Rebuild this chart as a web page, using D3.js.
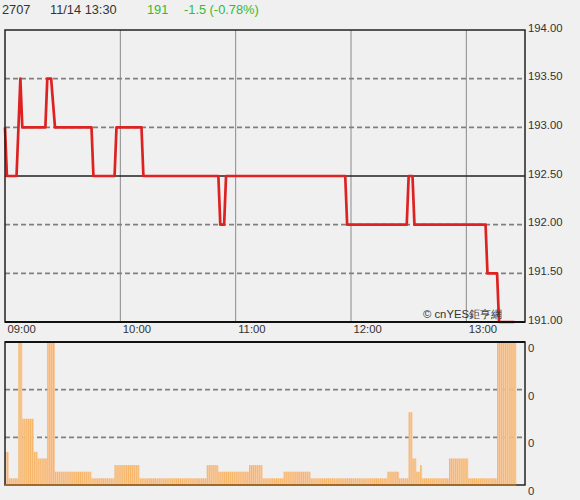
<!DOCTYPE html>
<html><head><meta charset="utf-8">
<script src="https://cdn.jsdelivr.net/npm/d3@7"></script>
<style>body{margin:0;background:#f0f0f0;} svg{display:block;font-family:"Liberation Sans",Arial,sans-serif;}</style>
</head><body><svg id="c" width="580" height="500"></svg>
<script>
// ---- data ----
const stockCode = "2707";
const quoteTime = "11/14 13:30";
const lastPrice = "191";
const priceChange = "-1.5 (-0.78%)";
const watermark = "© cnYES鉅亨網";
const prevClose = 192.5;

const priceTimes = ["09:00","09:01","09:06","09:08","09:09","09:21","09:22","09:24","09:26","09:45","09:46","09:57","09:58","10:11","10:12","10:51","10:52","10:54","10:55","11:57","11:58","12:29","12:30","12:32","12:33","13:10","13:11","13:16","13:17","13:25"];
const priceValues = [193.0,192.5,192.5,193.5,193.0,193.0,193.5,193.5,193.0,193.0,192.5,192.5,193.0,193.0,192.5,192.5,192.0,192.0,192.5,192.5,192.0,192.0,192.5,192.5,192.0,192.0,191.5,191.5,191.0,191.0];

const priceTicks = [191.0,191.5,192.0,192.5,193.0,193.5,194.0];
const timeTicks = ["09:00","10:00","11:00","12:00","13:00"];

// one value per minute starting 09:00
const volumeValues = [
  5,5,1,1,1,1,1,22,22,10,
  10,10,10,10,10,5,5,4,4,4,
  4,4,22,22,22,22,2,2,2,2,
  2,2,2,2,2,2,2,2,2,2,
  2,2,2,2,2,1,1,1,1,1,
  1,1,1,1,1,1,1,3,3,3,
  3,3,3,3,3,3,3,3,3,3,
  1,1,1,1,1,1,1,1,1,1,
  1,1,1,1,1,1,1,1,1,1,
  1,1,1,1,1,1,1,1,1,1,
  1,1,1,1,1,3,3,3,3,3,
  3,2,2,2,2,2,2,2,2,2,
  2,2,2,2,2,2,2,3,3,3,
  3,3,3,3,1,1,1,1,1,1,
  1,1,1,1,1,2,2,2,2,2,
  2,2,2,2,2,2,2,2,2,1,
  1,1,1,1,1,1,1,1,1,1,
  1,1,1,1,1,1,1,1,1,1,
  1,1,1,1,1,1,1,1,1,1,
  1,1,1,1,1,1,1,1,1,2,
  2,2,2,2,2,1,1,1,1,1,
  11,11,4,4,2,2,3,1,1,1,
  1,1,1,1,1,1,1,1,1,1,
  1,4,4,4,4,4,4,4,4,4,
  4,1,1,1,1,1,1,1,1,1,
  1,1,1,1,1,1,22,22,22,22,
  22,22,22,22,22,22
];
const volumeTicks = [0, 7.2, 14.4, 21.6];
const volumeTickLabels = ["0","0","0","0"];

// ---- drawing ----
const svg = d3.select("#c");
const parse = s => { const [h,m] = s.split(":").map(Number); return new Date(2023,10,14,h,m); };
const tStart = parse("09:00"), tEnd = parse("13:30");
const x = d3.scaleTime().domain([tStart, tEnd]).range([5, 524]);
const y = d3.scaleLinear().domain([191, 194]).range([322, 30]);
const vy = d3.scaleLinear().domain([0, 21.6]).range([485, 342]).clamp(true);

svg.append("rect").attr("width",580).attr("height",500).attr("fill","#f0f0f0");

// header
const hdr = svg.append("g").attr("font-size","12.8px");
hdr.append("text").attr("x",2).attr("y",14).attr("fill","#333").text(stockCode);
hdr.append("text").attr("x",50).attr("y",14).attr("fill","#333").text(quoteTime);
hdr.append("text").attr("x",147).attr("y",14).attr("fill","#33bb33").text(lastPrice);
hdr.append("text").attr("x",184).attr("y",14).attr("fill","#33bb33").text(priceChange);

// price panel grid
const pg = svg.append("g");
pg.selectAll("line.vg").data(timeTicks.slice(1)).join("line")
  .attr("x1",d=>x(parse(d))).attr("x2",d=>x(parse(d)))
  .attr("y1",30).attr("y2",322).attr("stroke","#8a8a8a").attr("stroke-width",1);
pg.selectAll("line.hg").data(priceTicks.filter(v=>v>191 && v<194 && v!==prevClose)).join("line")
  .attr("x1",5).attr("x2",525).attr("y1",d=>y(d)).attr("y2",d=>y(d))
  .attr("stroke","#808080").attr("stroke-width",1.6).attr("stroke-dasharray","5,3");
pg.append("line").attr("x1",5).attr("x2",525).attr("y1",y(prevClose)).attr("y2",y(prevClose))
  .attr("stroke","#222").attr("stroke-width",1.4);

// price line
const line = d3.line().x(d=>x(parse(d[0]))).y(d=>y(d[1]));
pg.append("path").datum(priceTimes.map((t,i)=>[t,priceValues[i]]))
  .attr("d",line).attr("fill","none").attr("stroke","#dd2222").attr("stroke-width",2.7)
  .attr("stroke-linejoin","round");

// watermark
pg.append("text").attr("x",423).attr("y",318).attr("font-size","11.3px").attr("fill","#333").text(watermark);

// frame
pg.append("rect").attr("x",5).attr("y",30).attr("width",520).attr("height",292)
  .attr("fill","none").attr("stroke","#222").attr("stroke-width",1.5);
pg.append("line").attr("x1",5).attr("x2",525).attr("y1",322).attr("y2",322).attr("stroke","#111").attr("stroke-width",2);

// y labels
pg.selectAll("text.yl").data(priceTicks).join("text")
  .attr("x",528).attr("y",d=>y(d)+1.5).attr("font-size","11.3px").attr("fill","#333")
  .text(d=>d3.format(".2f")(d));

// x labels
pg.selectAll("text.xl").data(timeTicks).join("text")
  .attr("x",d=>x(parse(d))+2.5).attr("y",332.5).attr("font-size","11.3px").attr("fill","#333")
  .text(d=>d);

// volume panel
const vol = svg.append("g");
vol.selectAll("line.vh").data(volumeTicks.slice(1,-1)).join("line")
  .attr("x1",5).attr("x2",525).attr("y1",d=>vy(d)).attr("y2",d=>vy(d))
  .attr("stroke","#808080").attr("stroke-width",1.6).attr("stroke-dasharray","5,3");

const tAt = i => new Date(tStart.getTime() + i*60000);
const bars = vol.selectAll("g.bar").data(volumeValues).join("g");
bars.append("rect")
  .attr("x",(d,i)=>x(tAt(i))).attr("width",(d,i)=>x(tAt(i+1))-x(tAt(i)))
  .attr("y",d=>vy(d)).attr("height",d=>485-vy(d)).attr("fill","#f9caa3");
bars.append("line")
  .attr("x1",(d,i)=>x(tAt(i))+0.5).attr("x2",(d,i)=>x(tAt(i))+0.5)
  .attr("y1",d=>vy(d)).attr("y2",485).attr("stroke","#f3a63c").attr("stroke-width",0.6);

vol.append("rect").attr("x",5).attr("y",342).attr("width",520).attr("height",143)
  .attr("fill","none").attr("stroke","#222").attr("stroke-width",1.5);
vol.append("line").attr("x1",5).attr("x2",525).attr("y1",342).attr("y2",342).attr("stroke","#111").attr("stroke-width",2);
vol.append("line").attr("x1",x(tAt(0))).attr("x2",x(tAt(volumeValues.length))).attr("y1",485).attr("y2",485)
  .attr("stroke","#b87420").attr("stroke-width",1.5);

vol.selectAll("text.vl").data(volumeTicks.slice().reverse()).join("text")
  .attr("x",528).attr("y",(d,i)=>vy(d)+10).attr("font-size","11.3px").attr("fill","#333")
  .text((d,i)=>volumeTickLabels[i]);
</script></body></html>
